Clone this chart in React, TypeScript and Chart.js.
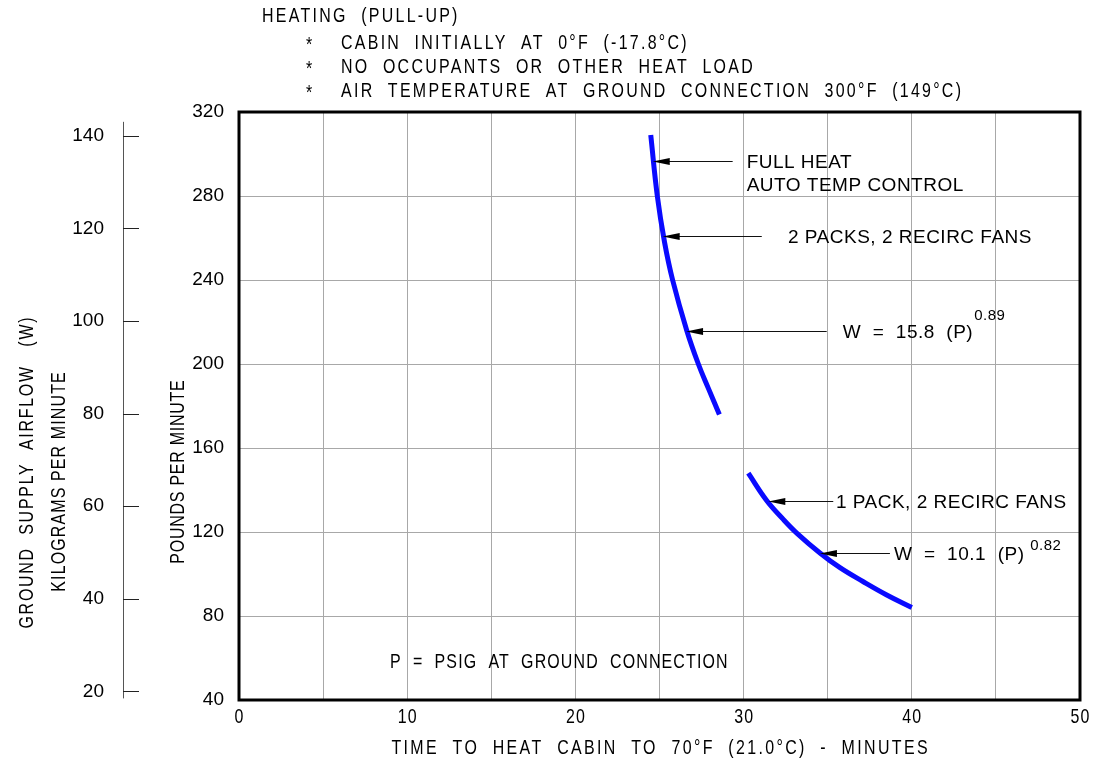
import React, { useEffect, useRef } from 'react';
import { Chart, registerables } from 'chart.js';

Chart.register(...registerables);

// ---------- data ----------
const TIME_TICKS = [0, 10, 20, 30, 40, 50];
const LB_TICKS = [40, 80, 120, 160, 200, 240, 280, 320];
const KG_TICKS = [20, 40, 60, 80, 100, 120, 140];
const LB_TO_KG = 0.45359237;

// 2 packs, 2 recirc fans (full heat, auto temp control)
const UPPER_TIME = [24.48, 24.87, 25.3, 25.78, 26.62, 27.31, 27.9, 28.56];
const UPPER_FLOW = [309, 280, 258, 240, 216, 200, 188.5, 176];

// 1 pack, 2 recirc fans
const LOWER_TIME = [30.28, 31.37, 32.36, 33.16, 34.54, 35.73, 37.12, 38.51, 40.0];
const LOWER_FLOW = [148, 135, 126, 119.5, 110, 103, 96.3, 90, 84];

const HEADER_TITLE = 'HEATING  (PULL-UP)';
const HEADER_NOTES = [
  'CABIN  INITIALLY  AT  0°F  (-17.8°C)',
  'NO  OCCUPANTS  OR  OTHER  HEAT  LOAD',
  'AIR  TEMPERATURE  AT  GROUND  CONNECTION  300°F  (149°C)',
];

const CALLOUT_LINES = [
  ['FULL HEAT', 'AUTO TEMP CONTROL'],
  ['2 PACKS, 2 RECIRC FANS'],
  ['W  =  15.8  (P)'],
  ['1 PACK, 2 RECIRC FANS'],
  ['W  =  10.1  (P)'],
];
const CALLOUT_SUP = ['', '', '0.89', '', ' 0.82'];
const CALLOUT_TIP_TIME = [24.6, 25.19, 26.58, 31.47, 34.54];
const CALLOUT_TIP_FLOW = [296.8, 261, 215.9, 134.9, 110.1];
const CALLOUT_TAIL_TIME = [29.35, 31.08, 34.94, 35.33, 38.7];
const CALLOUT_TEXT_TIME = [30.18, 32.64, 35.89, 35.49, 38.94];

const NOTE_TEXT = 'P  =  PSIG  AT  GROUND  CONNECTION';
const NOTE_TIME = 8.98;
const NOTE_FLOW = 58;

const X_TITLE = 'TIME  TO  HEAT  CABIN  TO  70°F  (21.0°C)  -  MINUTES';
const Y_TITLE_LB = 'POUNDS PER MINUTE';
const Y_TITLE_KG = 'KILOGRAMS PER MINUTE';
const Y_TITLE_MAIN = 'GROUND  SUPPLY  AIRFLOW   (W)';

// ---------- style ----------
const SANS = '"Liberation Sans", Arial, sans-serif';
const CAD_SIZE = 21;
const CAD_SCALE = 0.76;
const GRID = '#a8a8a8';
const CURVE = '#0a0aff';

const toPts = (xs: number[], ys: number[]) => xs.map((x, i) => ({ x, y: ys[i] }));

// narrow drafting-style lettering
function cad(
  ctx: CanvasRenderingContext2D,
  text: string,
  x: number,
  y: number,
  align: CanvasTextAlign,
  spacing = 3,
  rotate = 0,
) {
  ctx.save();
  ctx.translate(x, y);
  if (rotate) ctx.rotate(rotate);
  ctx.scale(CAD_SCALE, 1);
  ctx.font = `${CAD_SIZE}px ${SANS}`;
  (ctx as any).letterSpacing = `${spacing}px`;
  ctx.textAlign = align;
  ctx.textBaseline = 'middle';
  ctx.fillStyle = '#000';
  ctx.fillText(text, align === 'center' ? spacing / 2 : 0, 0);
  ctx.restore();
}

const overlay = {
  id: 'overlay',
  afterDraw(chart: any) {
    const ctx = chart.ctx as CanvasRenderingContext2D;
    const a = chart.chartArea;
    const xs = chart.scales.x;
    const ys = chart.scales.y;
    const kg = chart.scales.yKg;
    ctx.save();

    // frame
    ctx.strokeStyle = '#000';
    ctx.lineWidth = 3;
    ctx.strokeRect(a.left, a.top, a.right - a.left, a.bottom - a.top);

    // kg axis line and inward ticks
    const kx = kg.right;
    ctx.lineWidth = 1;
    ctx.strokeStyle = '#555';
    ctx.beginPath();
    ctx.moveTo(kx + 0.5, kg.getPixelForValue(KG_TICKS[KG_TICKS.length - 1]) - 14);
    ctx.lineTo(kx + 0.5, kg.getPixelForValue(KG_TICKS[0]) + 7);
    ctx.stroke();
    ctx.strokeStyle = '#222';
    KG_TICKS.forEach((v) => {
      const y = Math.round(kg.getPixelForValue(v)) + 0.5;
      ctx.beginPath();
      ctx.moveTo(kx, y);
      ctx.lineTo(kx + 16, y);
      ctx.stroke();
    });

    // x tick labels
    TIME_TICKS.forEach((v) => cad(ctx, String(v), xs.getPixelForValue(v), a.bottom + 17, 'center', 1.5));

    // header
    cad(ctx, HEADER_TITLE, 262, 16, 'left', 3);
    HEADER_NOTES.forEach((t, i) => {
      const y = 43 + i * 24;
      cad(ctx, '*', 306, y + 2, 'left');
      cad(ctx, t, 341, y, 'left', 3);
    });

    // axis titles
    cad(ctx, Y_TITLE_MAIN, 27, 473, 'center', 2.3, -Math.PI / 2);
    cad(ctx, Y_TITLE_KG, 59, 482, 'center', 1.5, -Math.PI / 2);
    cad(ctx, Y_TITLE_LB, 178, 472, 'center', 1.0, -Math.PI / 2);
    cad(ctx, X_TITLE, (a.left + a.right) / 2, 748, 'center', 3.1);

    // note
    cad(ctx, NOTE_TEXT, xs.getPixelForValue(NOTE_TIME), ys.getPixelForValue(NOTE_FLOW), 'left', 1.5);

    // callouts
    ctx.textBaseline = 'middle';
    (ctx as any).letterSpacing = '0.5px';
    CALLOUT_LINES.forEach((lines, i) => {
      const tipX = xs.getPixelForValue(CALLOUT_TIP_TIME[i]);
      const tipY = Math.round(ys.getPixelForValue(CALLOUT_TIP_FLOW[i])) + 0.5;
      const tailX = xs.getPixelForValue(CALLOUT_TAIL_TIME[i]);
      const txtX = xs.getPixelForValue(CALLOUT_TEXT_TIME[i]);
      ctx.strokeStyle = '#111';
      ctx.lineWidth = 1;
      ctx.beginPath();
      ctx.moveTo(tipX + 10, tipY);
      ctx.lineTo(tailX, tipY);
      ctx.stroke();
      ctx.fillStyle = '#000';
      ctx.beginPath();
      ctx.moveTo(tipX, tipY);
      ctx.lineTo(tipX + 17, tipY - 3.5);
      ctx.lineTo(tipX + 17, tipY + 3.5);
      ctx.closePath();
      ctx.fill();
      ctx.font = `19px ${SANS}`;
      ctx.textAlign = 'left';
      lines.forEach((l, j) => ctx.fillText(l, txtX, tipY + 1 + j * 23));
      if (CALLOUT_SUP[i]) {
        const w = ctx.measureText(lines[0]).width;
        ctx.font = `15px ${SANS}`;
        const raise = CALLOUT_SUP[i].startsWith(' ') ? 9 : 17;
        ctx.fillText(CALLOUT_SUP[i], txtX + w + 1, tipY + 1 - raise);
      }
    });
    ctx.restore();
  },
};

export default function App() {
  const ref = useRef<HTMLCanvasElement>(null);
  useEffect(() => {
    if (!ref.current) return;
    const chart = new Chart(ref.current, {
      type: 'line',
      data: {
        datasets: [
          {
            label: '2 PACKS, 2 RECIRC FANS',
            data: toPts(UPPER_TIME, UPPER_FLOW),
            borderColor: CURVE,
            borderWidth: 5,
            pointRadius: 0,
            tension: 0.4,
            fill: false,
          },
          {
            label: '1 PACK, 2 RECIRC FANS',
            data: toPts(LOWER_TIME, LOWER_FLOW),
            borderColor: CURVE,
            borderWidth: 5,
            pointRadius: 0,
            tension: 0.4,
            fill: false,
          },
        ],
      },
      options: {
        animation: false,
        responsive: false,
        devicePixelRatio: 1,
        layout: { padding: { top: 112, right: 14, left: 0, bottom: 0 } },
        plugins: { legend: { display: false }, tooltip: { enabled: false }, title: { display: false } },
        scales: {
          x: {
            type: 'linear',
            min: 0,
            max: 50,
            grid: { color: GRID, lineWidth: 1, drawTicks: false },
            border: { display: false },
            ticks: { stepSize: 5, autoSkip: false, display: false },
            afterFit: (s: any) => {
              s.height = 63;
            },
          },
          y: {
            type: 'linear',
            position: 'left',
            weight: 0,
            min: LB_TICKS[0],
            max: LB_TICKS[LB_TICKS.length - 1],
            grid: { color: GRID, lineWidth: 1, drawTicks: false },
            border: { display: false },
            afterBuildTicks: (s: any) => {
              s.ticks = LB_TICKS.map((v) => ({ value: v }));
            },
            ticks: { padding: 15, color: '#000', font: { family: SANS, size: 19 } },
            afterFit: (s: any) => {
              s.width = 116;
            },
          },
          yKg: {
            type: 'linear',
            position: 'left',
            weight: 1,
            min: LB_TICKS[0] * LB_TO_KG,
            max: LB_TICKS[LB_TICKS.length - 1] * LB_TO_KG,
            grid: { display: false, drawTicks: false },
            border: { display: false },
            afterBuildTicks: (s: any) => {
              s.ticks = KG_TICKS.map((v) => ({ value: v }));
            },
            ticks: { padding: 19, color: '#000', font: { family: SANS, size: 19 } },
            afterFit: (s: any) => {
              s.width = 123;
            },
          },
        },
      },
      plugins: [overlay],
    });
    return () => chart.destroy();
  }, []);
  return (
    <div style={{ position: 'fixed', left: 0, top: 0, width: 1094, height: 763, background: '#fff' }}>
      <canvas ref={ref} width={1094} height={763} style={{ width: 1094, height: 763, display: 'block' }} />
    </div>
  );
}
